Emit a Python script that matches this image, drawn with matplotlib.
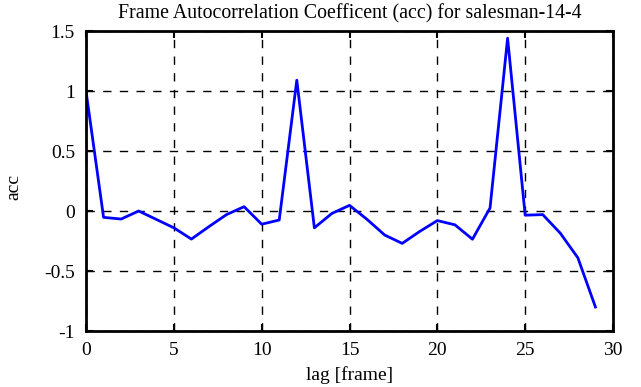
import matplotlib
matplotlib.use("Agg")
import matplotlib.pyplot as plt

# lag values and measured autocorrelation coefficients
lags = list(range(30))
acc = [1.0, -0.053, -0.067, 0.0, -0.07, -0.14, -0.234, -0.13, -0.03, 0.036,
       -0.11, -0.075, 1.09, -0.14, -0.02, 0.047, -0.07, -0.2, -0.27, -0.17,
       -0.08, -0.115, -0.235, 0.025, 1.44, -0.035, -0.03, -0.185, -0.39, -0.8]

xticks = [0, 5, 10, 15, 20, 25, 30]
yticks = [-1, -0.5, 0, 0.5, 1, 1.5]
ytick_labels = ["-1", "-0.5", "0", "0.5", "1", "1.5"]

plt.rcParams["font.family"] = ["Liberation Serif", "DejaVu Serif"]
FS = 14

fig = plt.figure(figsize=(6.41, 3.87), dpi=100)
ax = fig.add_axes([86 / 641, 56 / 387, 527 / 641, 300 / 387])

ax.plot(lags, acc, color="#0000ff", linewidth=2)

ax.set_xlim(0, 30)
ax.set_ylim(-1, 1.5)
ax.set_xticks(xticks)
ax.set_yticks(yticks)
ax.set_yticklabels(ytick_labels)

ax.grid(True, color="black", linestyle=(0, (6, 6)), linewidth=1)
ax.tick_params(direction="in", length=5, width=1.5, top=True, right=True,
               labelsize=FS)
ax.tick_params(axis="x", pad=8)
ax.tick_params(axis="y", pad=8)
for s in ax.spines.values():
    s.set_linewidth(2)

ax.set_xlabel("lag [frame]", fontsize=FS, labelpad=5)
ax.set_ylabel("acc", fontsize=FS)
ax.yaxis.set_label_coords(-0.12, 0.48)
ax.set_title("Frame Autocorrelation Coefficent (acc) for salesman-14-4",
             fontsize=14.3, pad=9)

fig.savefig("out.png", dpi=100)
